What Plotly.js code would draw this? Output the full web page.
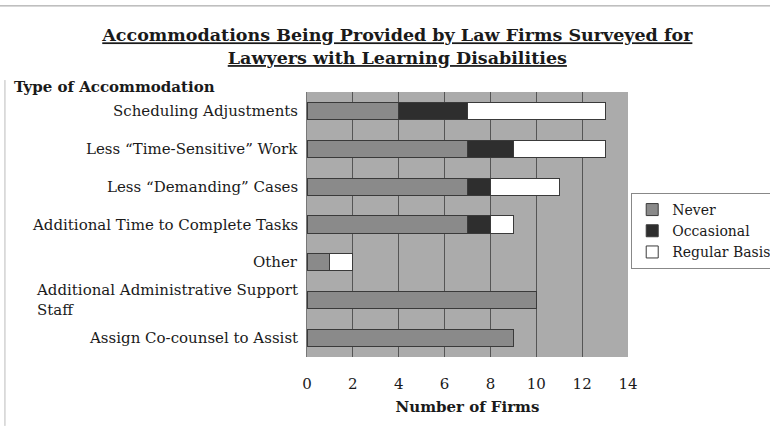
<!DOCTYPE html>
<html><head><meta charset="utf-8">
<script src="https://cdn.plot.ly/plotly-3.0.1.min.js"></script>
<style>html,body{margin:0;padding:0;background:#fff}#chart{width:770px;height:426px}</style>
</head><body><div id="chart"></div>
<script>
const categories = [
  "Scheduling Adjustments",
  "Less \u201CTime-Sensitive\u201D Work",
  "Less \u201CDemanding\u201D Cases",
  "Additional Time to Complete Tasks",
  "Other",
  "Additional Administrative Support<br>Staff",
  "Assign Co-counsel to Assist"
];
const never      = [4, 7, 7, 7, 1, 10, 9];
const occasional = [3, 2, 1, 1, 0, 0, 0];
const regular    = [6, 4, 3, 1, 1, 0, 0];
const xTicks = [0, 2, 4, 6, 8, 10, 12, 14];

const serif = "Century Schoolbook, DejaVu Serif, Liberation Serif, serif";
const line = {color: '#3a3a3a', width: 1};
function tr(name, vals, color) {
  return {type: 'bar', orientation: 'h', name: name, y: categories, x: vals,
    marker: {color: color, line: line}, width: 0.45, hoverinfo: 'skip'};
}
const data = [
  tr('Never', never, '#8a8a8a'),
  tr('Occasional', occasional, '#2e2e2e'),
  tr('Regular Basis', regular, '#ffffff')
];
const annotations = categories.map(c => ({
  xref: 'paper', yref: 'y', x: -0.022, y: c, text: c, showarrow: false,
  xanchor: 'right', yanchor: 'middle', align: 'left',
  font: {family: serif, size: 15, color: '#1a1a1a'}
}));
annotations.push({xref: 'paper', yref: 'paper', x: -0.919, y: 0.976, xanchor: 'left', yanchor: 'bottom',
  text: '<b>Type of Accommodation</b>', showarrow: false, font: {family: serif, size: 15, color: '#1a1a1a'}});
const layout = {
  width: 770, height: 426,
  margin: {l: 307, r: 142, t: 92, b: 69, autoexpand: false},
  paper_bgcolor: '#ffffff', plot_bgcolor: '#ababab',
  barmode: 'stack', bargap: 0.55,
  title: {text: 'Accommodations Being Provided by Law Firms Surveyed for<br>Lawyers with Learning Disabilities',
    font: {family: serif, size: 17.5, color: '#1a1a1a', lineposition: 'under', weight: 'bold'},
    x: 0.516, xanchor: 'center', y: 0.903, yanchor: 'top'},
  xaxis: {range: [0, 14], tickvals: xTicks, ticktext: xTicks.map(String), showgrid: true,
    gridcolor: '#555', gridwidth: 1, zeroline: false, showline: false,
    ticks: 'outside', ticklen: 13, tickcolor: 'rgba(0,0,0,0)',
    tickfont: {family: serif, size: 15, color: '#1a1a1a'},
    title: {text: '<b>Number of Firms</b>', font: {family: serif, size: 15, color: '#1a1a1a'}, standoff: 9}},
  yaxis: {autorange: 'reversed', showticklabels: false, ticks: '', showgrid: false, zeroline: false,
    showline: true, linecolor: '#777'},
  legend: {x: 1.01, xanchor: 'left', y: 0.619, yanchor: 'top', bgcolor: '#ffffff', bordercolor: '#888',
    borderwidth: 1, traceorder: 'normal', font: {family: serif, size: 14, color: '#1a1a1a'},
    itemwidth: 30, tracegroupgap: 0},
  annotations: annotations,
  shapes: [
    {type: 'line', xref: 'paper', yref: 'paper', x0: -0.96, x1: 1.45, y0: 1.325, y1: 1.325, line: {color: '#999', width: 1}},
    {type: 'line', xref: 'paper', yref: 'paper', x0: -0.941, x1: -0.941, y0: -0.26, y1: 1.045, line: {color: '#bbb', width: 1}}
  ],
  showlegend: true
};
Plotly.newPlot('chart', data, layout, {staticPlot: true});
</script></body></html>
